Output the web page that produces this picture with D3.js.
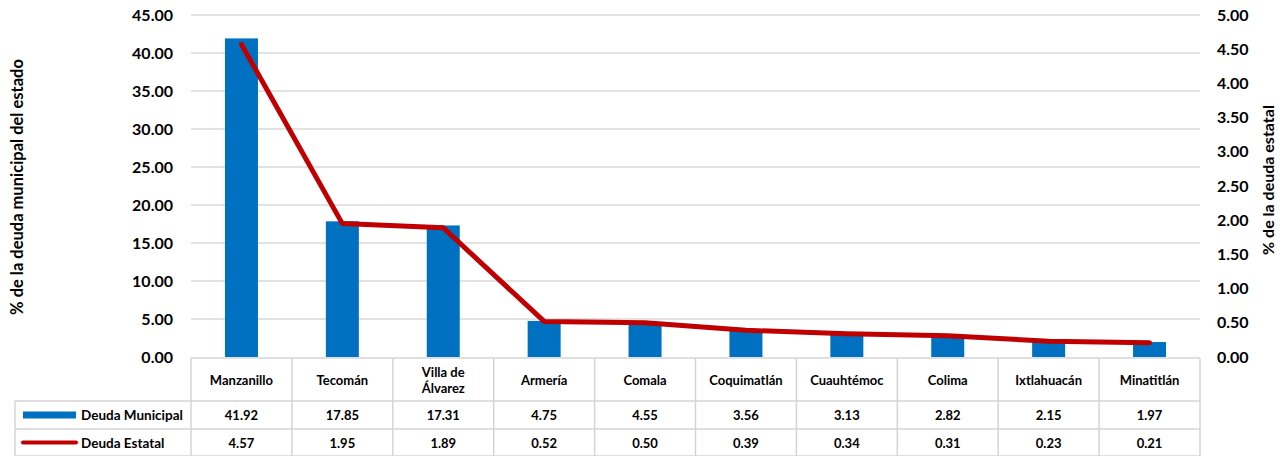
<!DOCTYPE html>
<html>
<head>
<meta charset="utf-8">
<script src="https://cdn.jsdelivr.net/npm/d3@7"></script>
<style>
  body { margin: 0; background: #fff; }
  text { font-family: Lato, "Open Sans", sans-serif; font-weight: bold; fill: #000; }
</style>
</head>
<body>
<svg id="chart" width="1288" height="456"></svg>
<script>
const categories = ["Manzanillo", "Tecomán", "Villa de_Álvarez", "Armería", "Comala",
  "Coquimatlán", "Cuauhtémoc", "Colima", "Ixtlahuacán", "Minatitlán"];
const deudaMunicipal = [41.92, 17.85, 17.31, 4.75, 4.55, 3.56, 3.13, 2.82, 2.15, 1.97];
const deudaEstatal = [4.57, 1.95, 1.89, 0.52, 0.50, 0.39, 0.34, 0.31, 0.23, 0.21];
const leftTicks = [0, 5, 10, 15, 20, 25, 30, 35, 40, 45];
const rightTicks = [0, 0.5, 1, 1.5, 2, 2.5, 3, 3.5, 4, 4.5, 5];
const seriesNames = ["Deuda Municipal", "Deuda Estatal"];

const svg = d3.select("#chart");
const plotLeft = 191, plotRight = 1200, plotTop = 15, plotBottom = 357;
const rowH = [43, 28, 27];
const grid = "#d9d9d9";

const x = d3.scaleBand().domain(categories).range([plotLeft, plotRight]);
const yL = d3.scaleLinear().domain([0, 45]).range([plotBottom, plotTop]);
const yR = d3.scaleLinear().domain([0, 5]).range([plotBottom, plotTop]);

// gridlines
svg.append("g").selectAll("line")
  .data(leftTicks.filter(d => d > 0)).join("line")
  .attr("x1", plotLeft).attr("x2", plotRight)
  .attr("y1", d => yL(d)).attr("y2", d => yL(d))
  .attr("stroke", grid).attr("stroke-width", 1.3);

// left axis
const axL = svg.append("g").attr("transform", `translate(${plotLeft},0)`)
  .call(d3.axisLeft(yL).tickValues(leftTicks).tickFormat(d3.format(".2f")).tickSize(0).tickPadding(18));
axL.select(".domain").remove();
axL.selectAll("text").style("font-size", "16px").style("font-family", "Lato, sans-serif").style("font-weight", "bold");

// right axis
const axR = svg.append("g").attr("transform", `translate(${plotRight},0)`)
  .call(d3.axisRight(yR).tickValues(rightTicks).tickFormat(d3.format(".2f")).tickSize(0).tickPadding(17));
axR.select(".domain").remove();
axR.selectAll("text").style("font-size", "16px").style("font-family", "Lato, sans-serif").style("font-weight", "bold");

// axis titles
svg.append("text").attr("transform", `translate(23,187) rotate(-90)`)
  .attr("text-anchor", "middle").style("font-size", "16.5px")
  .text("% de la deuda municipal del estado");
svg.append("text").attr("transform", `translate(1274,180) rotate(-90)`)
  .attr("text-anchor", "middle").style("font-size", "16px")
  .text("% de la deuda estatal");

// bars
const bw = 33;
svg.append("g").selectAll("rect")
  .data(deudaMunicipal).join("rect")
  .attr("x", (d, i) => x(categories[i]) + x.bandwidth() / 2 - bw / 2)
  .attr("width", bw)
  .attr("y", d => yL(d))
  .attr("height", d => plotBottom - yL(d))
  .attr("fill", "#0070C0");

// line
const line = d3.line()
  .x((d, i) => x(categories[i]) + x.bandwidth() / 2)
  .y(d => yR(d));
svg.append("path").datum(deudaEstatal)
  .attr("d", line).attr("fill", "none")
  .attr("stroke", "#C00000").attr("stroke-width", 5)
  .attr("stroke-linejoin", "round").attr("stroke-linecap", "round");

// data table
const tbl = svg.append("g");
const y0 = plotBottom + 1, y1 = y0 + rowH[0], y2 = y1 + rowH[1], y3 = y2 + rowH[2];
const legLeft = 15;
const bcol = "#d4d4d4";
// horizontal lines
tbl.append("line").attr("x1", plotLeft).attr("x2", plotRight).attr("y1", y0).attr("y2", y0);
[y1, y2, y3].forEach(yy => tbl.append("line").attr("x1", legLeft).attr("x2", plotRight).attr("y1", yy).attr("y2", yy));
// vertical lines
tbl.append("line").attr("x1", legLeft).attr("x2", legLeft).attr("y1", y1).attr("y2", y3);
categories.forEach(c => tbl.append("line").attr("x1", x(c)).attr("x2", x(c)).attr("y1", y0).attr("y2", y3));
tbl.append("line").attr("x1", plotRight).attr("x2", plotRight).attr("y1", y0).attr("y2", y3);
tbl.selectAll("line").attr("stroke", bcol).attr("stroke-width", 1.5);

// category labels
categories.forEach(c => {
  const parts = c.split("_");
  const t = tbl.append("text").attr("text-anchor", "middle")
    .attr("x", x(c) + x.bandwidth() / 2)
    .attr("y", y0 + rowH[0] / 2)
    .attr("dominant-baseline", "central")
    .style("font-size", "13px");
  const off = -(parts.length - 1) * 16 / 2;
  parts.forEach((p, i) => t.append("tspan").attr("x", x(c) + x.bandwidth() / 2)
    .attr("dy", i === 0 ? off : 16).text(p));
});

// values
[[deudaMunicipal, y1, rowH[1]], [deudaEstatal, y2, rowH[2]]].forEach(([vals, yy, h]) => {
  tbl.append("g").selectAll("text").data(vals).join("text")
    .attr("text-anchor", "middle")
    .attr("x", (d, i) => x(categories[i]) + x.bandwidth() / 2)
    .attr("y", yy + h / 2)
    .attr("dominant-baseline", "central")
    .style("font-size", "13px")
    .text(d => d3.format(".2f")(d));
});

// legend keys
tbl.append("rect").attr("x", 23).attr("y", y1 + rowH[1] / 2 - 3.5).attr("width", 53).attr("height", 7).attr("fill", "#0070C0");
tbl.append("line").attr("x1", 23).attr("x2", 76).attr("y1", y2 + rowH[2] / 2).attr("y2", y2 + rowH[2] / 2)
  .attr("stroke", "#C00000").attr("stroke-width", 4).attr("stroke-linecap", "round");
[[seriesNames[0], y1, rowH[1]], [seriesNames[1], y2, rowH[2]]].forEach(([n, yy, h]) => {
  tbl.append("text").attr("x", 81).attr("y", yy + h / 2)
    .attr("dominant-baseline", "central").style("font-size", "13.5px").text(n);
});
</script>
</body>
</html>
